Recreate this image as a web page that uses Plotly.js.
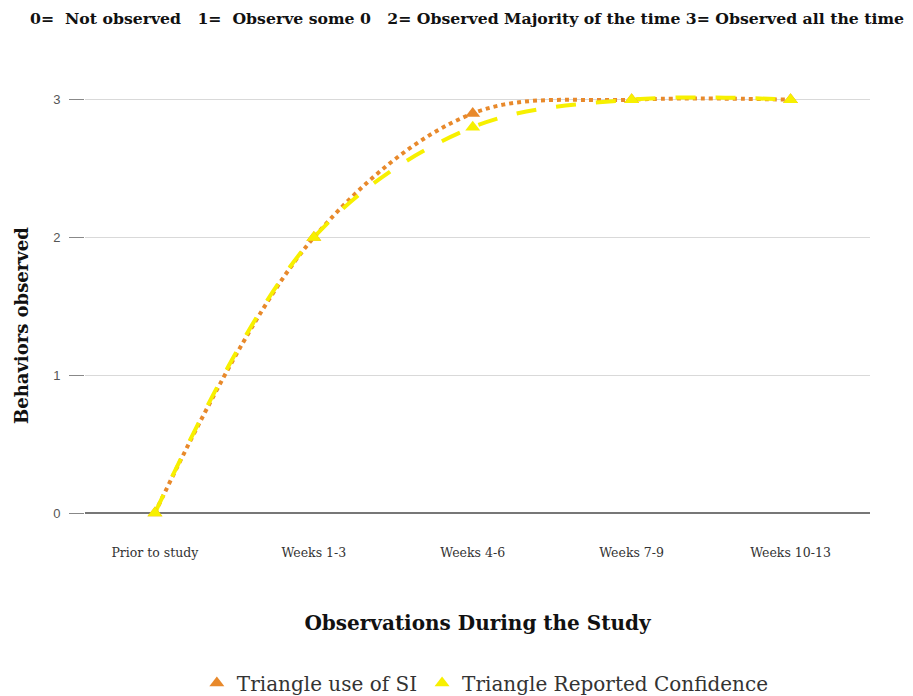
<!DOCTYPE html>
<html>
<head>
<meta charset="utf-8">
<script src="https://cdn.plot.ly/plotly-3.0.1.min.js"></script>
<style>html,body{margin:0;padding:0;background:#fff;}#chart{width:913px;height:696px;}</style>
</head>
<body>
<div id="chart"></div>
<script>
const categories = ["Prior to study", "Weeks 1-3", "Weeks 4-6", "Weeks 7-9", "Weeks 10-13"];
const useOfSI = [0, 2, 2.9, 3, 3];
const reportedConfidence = [0, 2, 2.8, 3, 3];
const seriesNames = ["Triangle use of SI", "Triangle Reported Confidence"];
const yTicks = [0, 1, 2, 3];

const orange = "#e8892b";
const yellow = "#f7f000";
const serif = "DejaVu Serif, Liberation Serif, serif";

const traces = [
  {x: categories, y: useOfSI, type: "scatter", mode: "lines", showlegend: false,
   line: {color: orange, width: 4, dash: "dot", shape: "spline", smoothing: 1}, hoverinfo: "skip"},
  {x: categories, y: reportedConfidence, type: "scatter", mode: "lines", showlegend: false,
   line: {color: yellow, width: 4, dash: "longdash", shape: "spline", smoothing: 1}, hoverinfo: "skip"},
  {x: categories, y: useOfSI, type: "scatter", mode: "markers", name: seriesNames[0],
   marker: {symbol: "triangle-up", size: 13, color: orange}, cliponaxis: false},
  {x: categories, y: reportedConfidence, type: "scatter", mode: "markers", name: seriesNames[1],
   marker: {symbol: "triangle-up", size: 13, color: yellow}, cliponaxis: false}
];

const layout = {
  width: 913, height: 696,
  paper_bgcolor: "#fff", plot_bgcolor: "#fff",
  margin: {l: 85, r: 43, t: 79, b: 183, autoexpand: false},
  title: {text: "0=  Not observed &nbsp; 1=  Observe some 0 &nbsp; 2= Observed Majority of the time 3= Observed all the time",
    font: {family: serif, size: 15.7, color: "#111", weight: "bold"},
    xref: "container", x: 30/913, xanchor: "left", yref: "container", y: 1 - 19/696, yanchor: "middle"},
  xaxis: {type: "category", range: [-0.44, 4.5], showgrid: false, zeroline: false, showline: false,
    automargin: false,
    ticks: "", ticklabelstandoff: 30, tickfont: {family: serif, size: 12.5, color: "#333"},
    title: {text: "<b>Observations During the Study</b>", font: {family: serif, size: 20, color: "#111"}, standoff: 57}},
  yaxis: {range: [0, 3.15], tickvals: yTicks, ticktext: yTicks.map(String),
    automargin: false,
    showgrid: true, gridcolor: "#d9d9d9", gridwidth: 1,
    zeroline: true, zerolinecolor: "#777", zerolinewidth: 2,
    ticks: "outside", ticklen: 15, tickcolor: "#888", tickwidth: 1, ticklabelstandoff: 6,
    tickfont: {family: "Liberation Sans, Arial, sans-serif", size: 13, color: "#555"}},
  annotations: [{text: "<b>Behaviors observed</b>", textangle: -90, showarrow: false,
    xref: "paper", yref: "paper", x: (21 - 85) / 785, y: (513 - 326) / 434, xanchor: "center", yanchor: "middle",
    font: {family: serif, size: 18, color: "#111"}}],
  legend: {orientation: "h", x: 0.51, xanchor: "center", xref: "paper", yref: "container", y: 1 - 683/696, yanchor: "middle",
    font: {family: serif, size: 20, color: "#333"}, itemwidth: 30},
  showlegend: true
};

Plotly.newPlot("chart", traces, layout, {displayModeBar: false, staticPlot: true});
</script>
</body>
</html>
